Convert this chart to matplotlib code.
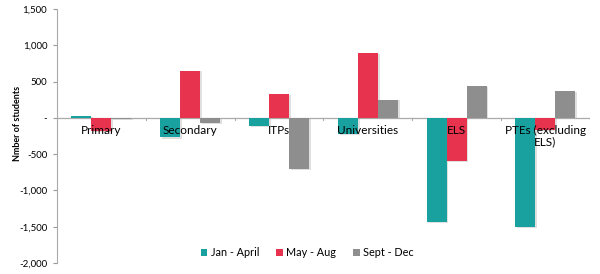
import matplotlib
matplotlib.use("Agg")
import matplotlib.pyplot as plt
import numpy as np
from matplotlib.ticker import FuncFormatter

categories = ["Primary", "Secondary", "ITPs", "Universities", "ELS", "PTEs (excluding\nELS)"]
series_names = ["Jan - April", "May - Aug", "Sept - Dec"]
jan_april = [25, -270, -110, -220, -1430, -1500]
may_aug = [-180, 650, 330, 890, -590, -170]
sept_dec = [-10, -75, -700, 250, 440, 370]
colors = ["#19A19F", "#E8334F", "#8E8E8E"]
yticks = [1500, 1000, 500, 0, -500, -1000, -1500, -2000]

plt.rcParams['font.family'] = ['Lato', 'DejaVu Sans']

fig = plt.figure(figsize=(6, 2.74), dpi=100)
ax = fig.add_axes([0.095, 0.04, 0.888, 0.927])

x = np.arange(len(categories))
w = 0.225
for i, (vals, name, c) in enumerate(zip([jan_april, may_aug, sept_dec], series_names, colors)):
    # subtle shadow
    ax.bar(x + (i - 1) * w + 0.02, vals, w, color="#000000", alpha=0.12, zorder=1,
           bottom=[-15 if v < 0 else -10 for v in vals])
    ax.bar(x + (i - 1) * w, vals, w, color=c, label=name, zorder=2)

ax.set_xlim(-0.5, len(categories) - 0.5)
ax.set_ylim(-2000, 1500)
ax.set_yticks(yticks)
ax.yaxis.set_major_formatter(FuncFormatter(lambda v, p: "-" if v == 0 else f"{int(v):,}"))
ax.tick_params(axis='y', labelsize=7, length=3, color="#999999", width=0.8, pad=4)

for s in ["top", "right", "bottom"]:
    ax.spines[s].set_visible(False)
ax.spines["left"].set_color("#AAAAAA")
ax.spines["left"].set_linewidth(0.8)

ax.axhline(0, color="#AAAAAA", lw=0.9, zorder=1.5)
ax.set_xticks([])
for b in np.arange(0.5, len(categories), 1.0):
    ax.plot([b, b], [0, -30], color="#AAAAAA", lw=0.8, zorder=1.5)

for xi, lab in zip(x, categories):
    ax.text(xi, -95, lab, ha="center", va="top", fontsize=8.5, zorder=5, linespacing=1.05)

ax.set_ylabel("Nmber of students", fontsize=6.5, fontweight="bold", labelpad=4)
ax.yaxis.set_label_coords(-0.065, 0.55)

leg = ax.legend(loc="center", bbox_to_anchor=(0.47, 0.04), ncol=3, frameon=False,
                fontsize=7.8, handlelength=0.6, handleheight=0.6, handletextpad=0.3,
                columnspacing=1.6)

fig.savefig("out.png", dpi=100)
